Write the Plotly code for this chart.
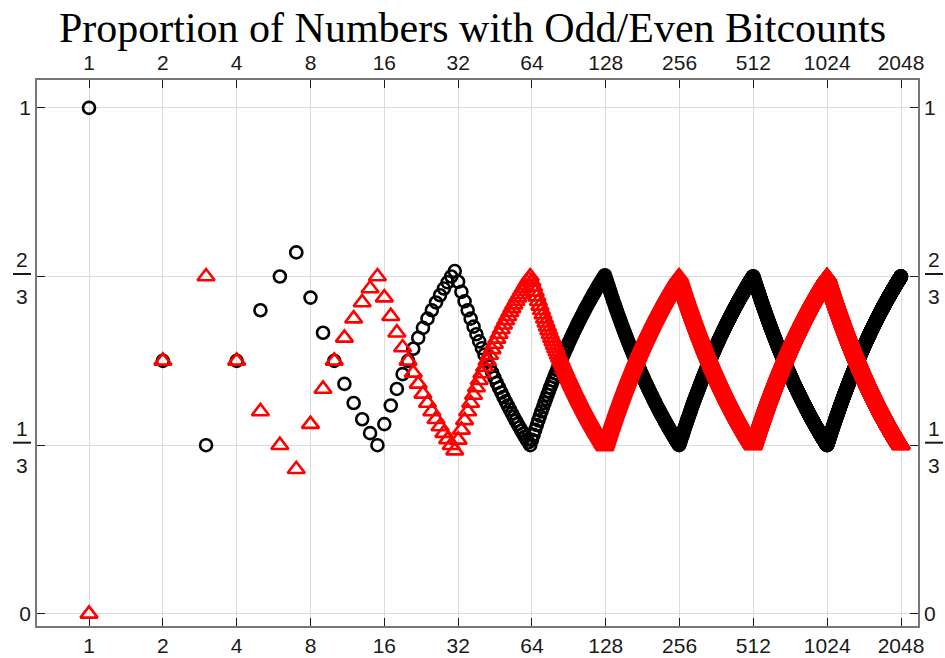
import numpy as np
import plotly.graph_objects as go

# blocks of integers sharing the same bit length: [2^(b-1), 2^b - 1]
BLOCK_START = [1, 2, 4, 8, 16, 32, 64, 128, 256, 512, 1024, 2048]
BLOCK_BITS = [1, 2, 3, 4, 5, 6, 7, 8, 9, 10, 11, 12]
N_MAX = 2048

X_TICKS = [1, 2, 4, 8, 16, 32, 64, 128, 256, 512, 1024, 2048]
Y_TICKS = [0, 1 / 3, 2 / 3, 1]
Y_TICK_TEXT = ["0", "", "", "1"]
FRACTIONS = [(1 / 3, "1", "3"), (2 / 3, "2", "3")]

ODD_COLOR = "black"
EVEN_COLOR = "#FF0000"
TEXT_COLOR = "#1A1A1A"
TICK_FONT = dict(family="Liberation Sans, Arial", size=21, color=TEXT_COLOR)

# running share of 1..n whose bit count is odd / even
block_end = BLOCK_START[1:] + [N_MAX + 1]
sizes = [min(e, N_MAX + 1) - s for s, e in zip(BLOCK_START, block_end)]
bits = np.repeat(BLOCK_BITS, sizes)
n = np.arange(1, len(bits) + 1)
odd_share = np.cumsum(bits % 2 == 1) / n
even_share = 1 - odd_share

X_RANGE = [np.log10(2 ** -0.705), np.log10(2 ** 11.23)]
Y_RANGE = [-0.024, 1.055]
PLOT_W = 945 - 37 - 27
PLOT_H = 658 - 80 - 32

fig = go.Figure()
fig.add_trace(
    go.Scatter(
        x=n,
        y=odd_share,
        mode="markers",
        marker=dict(symbol="circle-open", size=12, color=ODD_COLOR, line=dict(width=2.6, color=ODD_COLOR)),
        name="odd",
    )
)
fig.add_trace(
    go.Scatter(
        x=n,
        y=even_share,
        mode="markers",
        marker=dict(symbol="triangle-up-open", size=15, color=EVEN_COLOR, line=dict(width=2.6, color=EVEN_COLOR)),
        name="even",
    )
)
# dummy trace so the mirrored top/right axes get drawn
fig.add_trace(
    go.Scatter(x=[1], y=[0], xaxis="x2", yaxis="y2", mode="markers",
               marker=dict(opacity=0), hoverinfo="skip", showlegend=False)
)

axis_common = dict(
    showline=True,
    linecolor="#777777",
    linewidth=1.5,
    ticks="inside",
    ticklen=8,
    tickwidth=1.2,
    tickcolor=TEXT_COLOR,
    zeroline=False,
    automargin=False,
    tickfont=TICK_FONT,
)

# stacked fraction labels (1/3, 2/3) on both sides
for side_px in (22, 934):
    xp = (side_px - 37) / PLOT_W
    for val, num, den in FRACTIONS:
        yp = (val - Y_RANGE[0]) / (Y_RANGE[1] - Y_RANGE[0])
        fig.add_annotation(x=xp, y=yp, xref="paper", yref="paper", text=num, showarrow=False,
                           xanchor="center", yanchor="middle", yshift=17, font=TICK_FONT)
        fig.add_annotation(x=xp, y=yp, xref="paper", yref="paper", text=den, showarrow=False,
                           xanchor="center", yanchor="middle", yshift=-20, font=TICK_FONT)
        bar_y = yp + 2.5 / PLOT_H
        fig.add_shape(type="line", xref="paper", yref="paper",
                      x0=xp - 9 / PLOT_W, x1=xp + 9 / PLOT_W, y0=bar_y, y1=bar_y,
                      line=dict(color=TEXT_COLOR, width=2))

fig.update_layout(
    width=945,
    height=658,
    plot_bgcolor="white",
    paper_bgcolor="white",
    showlegend=False,
    margin=dict(l=37, r=27, t=80, b=32),
    title=dict(
        text="Proportion of Numbers with Odd/Even Bitcounts",
        font=dict(family="Liberation Serif, Times New Roman", size=42, color="black"),
        x=0.5,
        xanchor="center",
        y=1 - 27 / 658,
        yanchor="middle",
        yref="container",
    ),
    xaxis=dict(
        type="log",
        range=X_RANGE,
        tickvals=X_TICKS,
        ticktext=[str(v) for v in X_TICKS],
        showgrid=True,
        gridcolor="#DCDCDC",
        **axis_common,
    ),
    xaxis2=dict(
        type="log",
        range=X_RANGE,
        overlaying="x",
        side="top",
        tickvals=X_TICKS,
        ticktext=[str(v) for v in X_TICKS],
        showgrid=False,
        **axis_common,
    ),
    yaxis=dict(
        range=Y_RANGE,
        tickvals=Y_TICKS,
        ticktext=Y_TICK_TEXT,
        showgrid=True,
        gridcolor="#DCDCDC",
        **axis_common,
    ),
    yaxis2=dict(
        range=Y_RANGE,
        overlaying="y",
        side="right",
        tickvals=Y_TICKS,
        ticktext=Y_TICK_TEXT,
        showgrid=False,
        **axis_common,
    ),
)

# the page body has a default 8px margin; drop it so the figure fills the window
fig.write_html(
    "out.html",
    config={"displayModeBar": False},
    post_script="document.body.style.margin = '0px';",
)
